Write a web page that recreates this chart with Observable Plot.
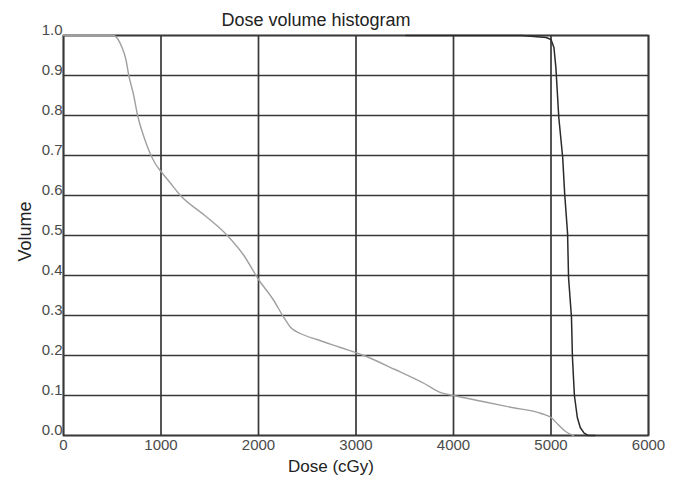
<!DOCTYPE html>
<html><head><meta charset="utf-8">
<script src="https://cdn.jsdelivr.net/npm/d3@7"></script>
<script src="https://cdn.jsdelivr.net/npm/@observablehq/plot@0.6"></script>
<style>
body{margin:0;background:#fff;}
svg{font-family:"Liberation Sans",Arial,sans-serif;}
</style>
</head><body>
<div id="chart"></div>
<script>
const xTicks = [0,1000,2000,3000,4000,5000,6000];
const yTicks = [0,0.1,0.2,0.3,0.4,0.5,0.6,0.7,0.8,0.9,1.0];

// light gray curve
const doseA = [0,380,510,560,600,640,670,720,760,820,880,940,1000,1100,1200,1450,1680,1850,2000,2150,2260,2330,2430,2600,2840,3080,3400,3700,3870,4000,4300,4600,4900,5000,5070,5150,5230];
const volA  = [1.0,1.0,1.0,0.99,0.97,0.94,0.9,0.85,0.8,0.75,0.71,0.68,0.66,0.63,0.6,0.55,0.5,0.45,0.39,0.34,0.295,0.27,0.255,0.24,0.22,0.2,0.165,0.13,0.107,0.1,0.085,0.07,0.055,0.045,0.028,0.01,0.0];

// dark curve
const doseB = [3510,4700,4950,5000,5030,5050,5080,5120,5140,5170,5180,5210,5220,5240,5270,5300,5340,5380,5450];
const volB  = [1.0,1.0,0.995,0.99,0.97,0.92,0.795,0.695,0.605,0.505,0.395,0.295,0.195,0.1,0.045,0.02,0.006,0.0,0.0];

const dataA = doseA.map((d,i)=>({dose:d, vol:volA[i]}));
const dataB = doseB.map((d,i)=>({dose:d, vol:volB[i]}));

const chart = Plot.plot({
  width: 681,
  height: 477,
  marginLeft: 63,
  marginRight: 33,
  marginTop: 35,
  marginBottom: 42,
  style: {fontFamily: "Liberation Sans, Arial, sans-serif", background: "#fff", fontSize: "15px"},
  x: {domain: [0,6000], ticks: xTicks, tickFormat: d=>String(d), label: null},
  y: {domain: [0,1], ticks: yTicks, tickFormat: d=>d.toFixed(1), label: null},
  marks: [
    Plot.gridX(xTicks, {stroke: "#383838", strokeOpacity: 1, strokeWidth: 1.7}),
    Plot.gridY(yTicks, {stroke: "#383838", strokeOpacity: 1, strokeWidth: 1.7}),
    Plot.frame({stroke: "#383838", strokeWidth: 1.7}),
    Plot.line(dataA, {x: "dose", y: "vol", stroke: "#a0a0a0", strokeWidth: 1.4, curve: "monotone-x"}),
    Plot.line(dataB, {x: "dose", y: "vol", stroke: "#2a2a2a", strokeWidth: 1.5}),
    Plot.axisX(xTicks, {tickSize: 0, tickPadding: 4, fontSize: 15, fill: "#4a4a4a", tickFormat: d=>String(d)}),
    Plot.axisY(yTicks, {tickSize: 0, tickPadding: 1, fontSize: 15, fill: "#4a4a4a", dy: -5, tickFormat: d=>d.toFixed(1)}),
    Plot.text(["Dose volume histogram"], {frameAnchor: "top", lineAnchor: "middle", dx: -40, dy: -15, fontSize: 18, fill: "#222"}),
    Plot.text(["Dose (cGy)"], {frameAnchor: "bottom", lineAnchor: "middle", dx: -25, dy: 31, fontSize: 17, fill: "#222"}),
    Plot.text(["Volume"], {frameAnchor: "left", textAnchor: "middle", lineAnchor: "middle", dx: -38, dy: -4, rotate: -90, fontSize: 18, fill: "#222"})
  ]
});
document.getElementById("chart").appendChild(chart);
</script>
</body></html>
